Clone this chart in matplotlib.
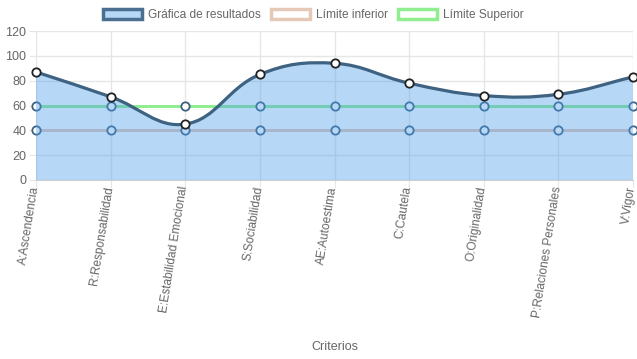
import numpy as np
import matplotlib.pyplot as plt
import matplotlib.transforms as mtrans
from matplotlib.path import Path
from matplotlib.patches import PathPatch, Patch

plt.rcParams['font.family'] = ['Liberation Sans', 'DejaVu Sans']

criterios = ['A:Ascendencia', 'R:Responsabilidad', 'E:Estabilidad Emocional',
             'S:Sociabilidad', 'AE:Autoestima', 'C:Cautela', 'O:Originalidad',
             'P:Relaciones Personales', 'V:Vigor']
resultados = [87, 67, 45, 85, 94, 78, 68, 69, 83]
limite_inferior = [40, 40, 40, 40, 40, 40, 40, 40, 40]
limite_superior = [60, 60, 60, 60, 60, 60, 60, 60, 60]
y_ticks = [0, 20, 40, 60, 80, 100, 120]

line_col = '#3e6282'
fill_col = '#4a9de8'
inf_col = '#e6c8b8'
sup_col = '#90ee90'
grid_col = '#e6e6e6'
txt_col = '#666666'


def bezier_path(ax, xs, ys, t=0.4):
    # chart.js style spline, control points computed in pixel space
    pts = ax.transData.transform(np.column_stack([xs, ys]))
    n = len(pts)
    before, after = [], []
    for i in range(n):
        p0 = pts[max(i - 1, 0)]
        p1 = pts[i]
        p2 = pts[min(i + 1, n - 1)]
        d01 = np.hypot(*(p1 - p0))
        d12 = np.hypot(*(p2 - p1))
        tot = d01 + d12
        s01 = d01 / tot if tot else 0
        s12 = d12 / tot if tot else 0
        before.append(p1 - t * s01 * (p2 - p0))
        after.append(p1 + t * s12 * (p2 - p0))
    verts = [pts[0]]
    codes = [Path.MOVETO]
    for i in range(n - 1):
        verts += [after[i], before[i + 1], pts[i + 1]]
        codes += [Path.CURVE4] * 3
    inv = ax.transData.inverted()
    return inv.transform(np.array(verts)), codes


fig = plt.figure(figsize=(6.37, 3.59), dpi=100)
ax = fig.add_axes([36 / 637, 1 - 180 / 359, 597 / 637, 149 / 359])
x = np.arange(len(criterios))
ax.set_xlim(0, len(criterios) - 1)
ax.set_ylim(0, 120)

# limit lines (drawn under the filled results)
ax.plot(x, limite_inferior, color=inf_col, lw=2.2, zorder=2, clip_on=False,
        marker='o', ms=6, mfc='white', mec=line_col, mew=1.3)
ax.plot(x, limite_superior, color=sup_col, lw=2.2, zorder=2, clip_on=False,
        marker='o', ms=6, mfc='white', mec=line_col, mew=1.3)

verts, codes = bezier_path(ax, x, resultados)
fill_verts = np.vstack([verts, [[x[-1], 0], [x[0], 0], verts[0]]])
fill_codes = codes + [Path.LINETO, Path.LINETO, Path.CLOSEPOLY]
ax.add_patch(PathPatch(Path(fill_verts, fill_codes), facecolor=fill_col,
                       alpha=0.4, lw=0, zorder=3))
ax.add_patch(PathPatch(Path(verts, codes), facecolor='none', edgecolor=line_col,
                       lw=2.3, zorder=4, clip_on=False))
ax.plot(x, resultados, 'o', ms=6, mfc='white', mec='#222222', mew=1.3,
        zorder=5, clip_on=False)

ax.set_yticks(y_ticks)
ax.set_xticks(x)
ax.grid(color=grid_col, lw=1)
ax.set_axisbelow(True)
for s in ['top', 'right', 'left']:
    ax.spines[s].set_visible(False)
ax.spines['bottom'].set_color('#d0d0d0')
ax.tick_params(axis='both', colors=grid_col, labelcolor=txt_col, length=5)
ax.tick_params(axis='x', pad=0)
ax.tick_params(axis='y', pad=2, labelsize=9)
ax.set_xticklabels(criterios, rotation=81, ha='right', va='baseline',
                   rotation_mode='anchor', fontsize=8.6)
# nudge labels so their baseline side sits on the tick
shift = mtrans.ScaledTranslation(2 / 100, 0, fig.dpi_scale_trans)
for lab in ax.get_xticklabels():
    lab.set_transform(lab.get_transform() + shift)
ax.set_xlabel('Criterios', color=txt_col, fontsize=9)
ax.xaxis.set_label_coords(0.5, -(341 - 180) / 149, transform=ax.transAxes)

handles = [Patch(facecolor=(0.29, 0.62, 0.91, 0.4), edgecolor='#4a6f91', lw=2.5),
           Patch(facecolor='white', edgecolor=inf_col, lw=2.5),
           Patch(facecolor='white', edgecolor=sup_col, lw=2.5)]
fig.legend(handles, ['Gráfica de resultados', 'Límite inferior', 'Límite Superior'],
           loc='center', bbox_to_anchor=(0.492, 1 - 15 / 359), ncol=3, frameon=False,
           fontsize=8.6, labelcolor=txt_col, handlelength=3.3, handleheight=0.9,
           handletextpad=0.5, columnspacing=0.8)

fig.savefig('out.png', dpi=100)
